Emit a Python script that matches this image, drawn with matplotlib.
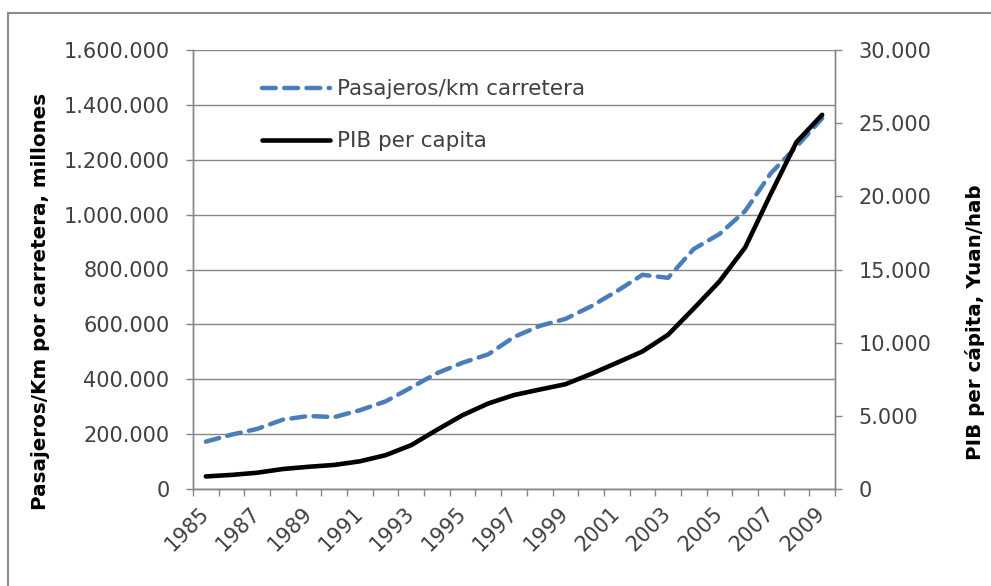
import matplotlib
matplotlib.use("Agg")
import matplotlib.pyplot as plt
from matplotlib.ticker import FuncFormatter, FixedLocator, MultipleLocator
from matplotlib.lines import Line2D

years = list(range(1985, 2010))
pasajeros = [172500, 198100, 219000, 252800, 266200, 262000, 287200, 319300,
             370100, 422100, 460300, 490900, 554100, 594300, 619900, 665700,
             720700, 780600, 769600, 874800, 929200, 1013100, 1150700,
             1247600, 1351100]
pib = [858, 963, 1112, 1366, 1519, 1644, 1893, 2311, 2998, 4044, 5046, 5846,
       6420, 6796, 7159, 7858, 8622, 9398, 10542, 12336, 14185, 16500, 20169,
       23708, 25575]
xlabels = [str(y) for y in years[::2]]

plt.rcParams['font.family'] = ['DejaVu Sans']

W, H = 991, 586
fig = plt.figure(figsize=(W / 100, H / 100), dpi=100)
ax = fig.add_axes([193 / W, 1 - 489 / H, 642 / W, 439 / H])
ax2 = ax.twinx()

grid_c = '#868686'
txt_c = '#404040'

x = list(range(len(years)))
l1, = ax.plot(x, pasajeros, color='#4A7EBB', lw=3.2, ls=(0, (3.1, 1.9)),
              dash_capstyle='round', label='Pasajeros/km carretera', zorder=3)
l2, = ax2.plot(x, pib, color='black', lw=3.3, solid_capstyle='round',
               label='PIB per capita', zorder=3)

ax.set_xlim(-0.5, len(years) - 0.5)
ax.set_ylim(0, 1600000)
ax2.set_ylim(0, 30000)
ax.yaxis.set_major_locator(MultipleLocator(200000))
ax2.yaxis.set_major_locator(MultipleLocator(5000))

def fmt(v, pos):
    return f"{int(round(v)):,}".replace(',', '.')

ax.yaxis.set_major_formatter(FuncFormatter(fmt))
ax2.yaxis.set_major_formatter(FuncFormatter(fmt))

ax.grid(axis='y', color=grid_c, lw=1.0)
ax.set_axisbelow(True)

# x ticks at category boundaries, labels at every other category centre
ax.xaxis.set_major_locator(FixedLocator([i - 0.5 for i in range(len(years) + 1)]))
ax.xaxis.set_major_formatter(FuncFormatter(lambda v, p: ''))
ax.xaxis.set_minor_locator(FixedLocator(list(range(0, len(years), 2))))
ax.set_xticklabels(xlabels, minor=True, rotation=45, ha='right', va='center',
                   rotation_mode='anchor', fontsize=15, color=txt_c)
ax.tick_params(axis='x', which='minor', length=0, pad=15)
ax.tick_params(axis='x', which='major', length=5, color=grid_c, width=1)

ax.tick_params(axis='y', length=5, color=grid_c, width=1, labelsize=15,
               labelcolor=txt_c, pad=12)
ax2.tick_params(axis='y', length=5, color=grid_c, width=1, labelsize=15,
                labelcolor=txt_c, pad=12)

for a in (ax, ax2):
    a.spines['top'].set_visible(False)
    for s in ('left', 'right', 'bottom'):
        a.spines[s].set_color(grid_c)
        a.spines[s].set_linewidth(1.0)

ax.set_ylabel('Pasajeros/Km por carretera, millones', fontsize=14.3,
              fontweight='bold', color='black', va='center')
ax.yaxis.set_label_coords(-0.238, 0.428)
ax2.set_ylabel('PIB per cápita, Yuan/hab', fontsize=14.3,
               fontweight='bold', color='black', va='center')
ax2.yaxis.set_label_coords(1.218, 0.380)

leg = ax.legend(handles=[l1, l2], loc='upper left',
                bbox_to_anchor=(0.107, 0.933), frameon=False, fontsize=15.5,
                handlelength=3.15, labelspacing=1.47, handletextpad=0.37,
                borderpad=0, borderaxespad=0)
for t in leg.get_texts():
    t.set_color(txt_c)

# outer chart border (partially visible)
bc = '#8c8c8c'
fig.add_artist(Line2D([8 / W, 8 / W], [0, 1 - 13 / H], color=bc, lw=1.5,
                      transform=fig.transFigure))
fig.add_artist(Line2D([8 / W, 1], [1 - 13 / H, 1 - 13 / H], color=bc, lw=1.5,
                      transform=fig.transFigure))

fig.savefig('out.png', dpi=100)
